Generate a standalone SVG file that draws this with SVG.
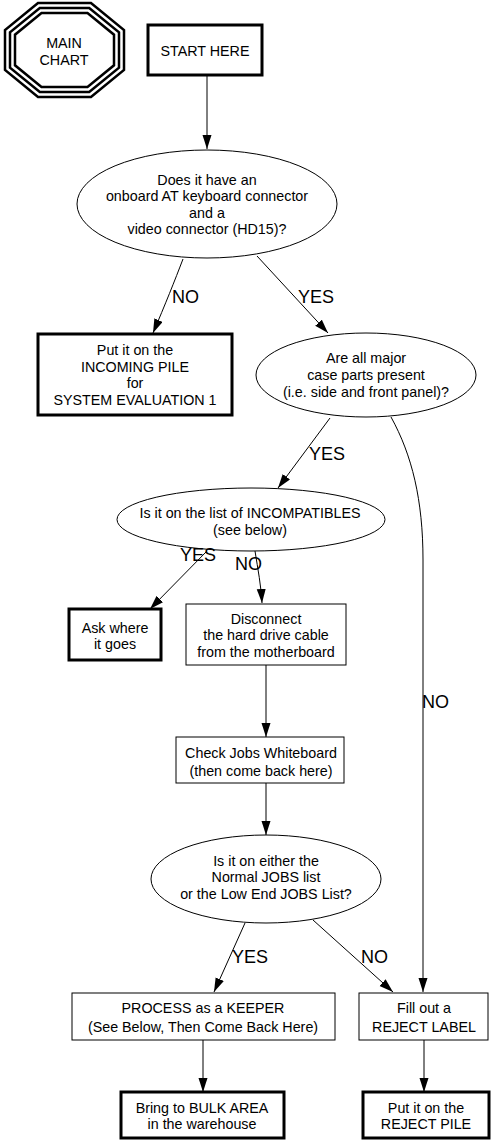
<svg xmlns="http://www.w3.org/2000/svg" width="492" height="1144" viewBox="0 0 492 1144">
<style>
text{font-family:"Liberation Sans",Arial,sans-serif;font-size:14.3px;fill:#000;text-anchor:middle}
.lbl{font-size:18px;text-anchor:start}
.thin{fill:#fff;stroke:#000;stroke-width:1}
.thick{fill:#fff;stroke:#000;stroke-width:3}
.oct{fill:none;stroke:#000;stroke-width:2.5}
.c{fill:none;stroke:#000;stroke-width:1;marker-end:url(#ah)}
</style>
<defs>
<marker id="ah" markerUnits="userSpaceOnUse" markerWidth="15" markerHeight="10" refX="14" refY="4.5" orient="auto">
<path d="M0,0 L14,4.5 L0,9 z" fill="#000"/>
</marker>
</defs>
<g id="main-chart">
<polygon class="oct" points="38,3 91,3 124,30 124,70 91,97 38,97 5,70 5,30"/>
<polygon class="oct" points="39.8,8 89.2,8 119,32.4 119,67.6 89.2,92 39.8,92 10,67.6 10,32.4"/>
<polygon class="oct" points="41.5,13 87.5,13 114,34.7 114,65.3 87.5,87 41.5,87 15,65.3 15,34.7"/>
<text x="64" y="48">MAIN</text>
<text x="64" y="65">CHART</text>
</g>
<g id="start">
<rect class="thick" x="148" y="25" width="114" height="50"/>
<text x="205" y="56">START HERE</text>
</g>
<g id="q-connectors">
<ellipse class="thin" cx="207" cy="204" rx="130" ry="54"/>
<text x="207" y="185">Does it have an</text>
<text x="207" y="201">onboard AT keyboard connector</text>
<text x="207" y="218">and a</text>
<text x="207" y="234">video connector (HD15)?</text>
</g>
<g id="incoming-pile">
<rect class="thick" x="38" y="334" width="194" height="81"/>
<text x="135" y="355">Put it on the</text>
<text x="135" y="372">INCOMING PILE</text>
<text x="135" y="388">for</text>
<text x="135" y="405">SYSTEM EVALUATION 1</text>
</g>
<g id="q-case">
<ellipse class="thin" cx="366" cy="375" rx="110" ry="42"/>
<text x="366" y="363">Are all major</text>
<text x="366" y="380">case parts present</text>
<text x="366" y="397">(i.e. side and front panel)?</text>
</g>
<g id="q-incompatibles">
<ellipse class="thin" cx="251" cy="519.5" rx="134" ry="31.5"/>
<text x="250" y="518">Is it on the list of INCOMPATIBLES</text>
<text x="250" y="535">(see below)</text>
</g>
<g id="ask">
<rect class="thick" x="69" y="609" width="92" height="51"/>
<text x="115" y="633">Ask where</text>
<text x="115" y="649">it goes</text>
</g>
<g id="disconnect">
<rect class="thin" x="186" y="604" width="160" height="61"/>
<text x="266" y="624">Disconnect</text>
<text x="266" y="640">the hard drive cable</text>
<text x="266" y="657">from the motherboard</text>
</g>
<g id="check-jobs">
<rect class="thin" x="176" y="737" width="168" height="46"/>
<text x="261" y="758">Check Jobs Whiteboard</text>
<text x="261" y="776">(then come back here)</text>
</g>
<g id="q-jobs">
<ellipse class="thin" cx="266" cy="879" rx="115" ry="44"/>
<text x="266" y="866">Is it on either the</text>
<text x="266" y="882">Normal JOBS list</text>
<text x="266" y="899">or the Low End JOBS List?</text>
</g>
<g id="process">
<rect class="thin" x="72" y="993" width="263" height="47"/>
<text x="203" y="1013">PROCESS as a KEEPER</text>
<text x="203" y="1032">(See Below, Then Come Back Here)</text>
</g>
<g id="fill-out">
<rect class="thin" x="359" y="993" width="129" height="47"/>
<text x="424" y="1013">Fill out a</text>
<text x="424" y="1032">REJECT LABEL</text>
</g>
<g id="bulk">
<rect class="thick" x="121" y="1092" width="163" height="46"/>
<text x="202" y="1113">Bring to BULK AREA</text>
<text x="202" y="1129">in the warehouse</text>
</g>
<g id="reject-pile">
<rect class="thick" x="363" y="1092" width="126" height="46"/>
<text x="426" y="1113">Put it on the</text>
<text x="426" y="1129">REJECT PILE</text>
</g>
<g id="connectors">
<path class="c" d="M207,75 L207,149"/>
<path class="c" d="M183,259 C175,280 165,305 153,333"/>
<path class="c" d="M257,256 L328,333"/>
<path class="c" d="M330,418 L278,488"/>
<path class="c" d="M391,417 C412,455 423,500 423,560 L423,992"/>
<path class="c" d="M207,551 L150,609"/>
<path class="c" d="M255,551 C258,570 261,585 262,603"/>
<path class="c" d="M266,665 L266,737"/>
<path class="c" d="M266,783 L266,835"/>
<path class="c" d="M245,923 L214,992"/>
<path class="c" d="M313,920 L393,992"/>
<path class="c" d="M203,1040 L203,1092"/>
<path class="c" d="M424,1040 L424,1092"/>
<text class="lbl" x="172" y="303">NO</text>
<text class="lbl" x="298" y="303">YES</text>
<text class="lbl" x="309" y="460">YES</text>
<text class="lbl" x="180" y="561">YES</text>
<text class="lbl" x="235" y="570">NO</text>
<text class="lbl" x="422" y="708">NO</text>
<text class="lbl" x="232" y="963">YES</text>
<text class="lbl" x="361" y="963">NO</text>
</g>
</svg>
